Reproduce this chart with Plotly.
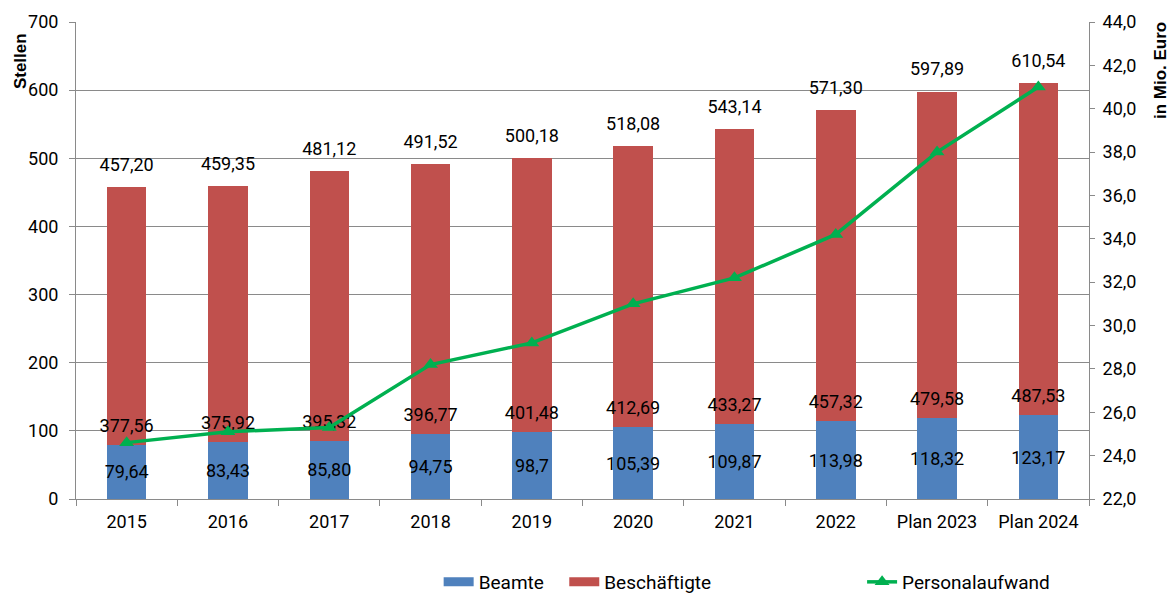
import plotly.graph_objects as go

# ---- data ----
categories = ["2015", "2016", "2017", "2018", "2019", "2020", "2021", "2022", "Plan 2023", "Plan 2024"]
beamte = [79.64, 83.43, 85.80, 94.75, 98.7, 105.39, 109.87, 113.98, 118.32, 123.17]
beamte_labels = ["79,64", "83,43", "85,80", "94,75", "98,7", "105,39", "109,87", "113,98", "118,32", "123,17"]
beschaeftigte = [377.56, 375.92, 395.32, 396.77, 401.48, 412.69, 433.27, 457.32, 479.58, 487.53]
totals = [457.20, 459.35, 481.12, 491.52, 500.18, 518.08, 543.14, 571.30, 597.89, 610.54]
personalaufwand = [24.6, 25.1, 25.3, 28.2, 29.2, 31.0, 32.2, 34.2, 38.0, 41.0]


def de(v):
    return f"{v:.2f}".replace(".", ",")


BLUE = "#4F81BD"
RED = "#C0504D"
GREEN = "#00B050"
GRID = "#8a8a8a"
FONT = "Roboto"
FS = 18

fig = go.Figure()

# stacked bars
fig.add_trace(go.Bar(
    x=categories, y=beamte, name="Beamte", marker=dict(color=BLUE, line=dict(width=0)),
    text=beamte_labels, textposition="inside", insidetextanchor="middle",
    textangle=0, constraintext="none",
    insidetextfont=dict(family=FONT, size=FS, color="black"),
    showlegend=False, width=0.39, hoverinfo="skip",
))
fig.add_trace(go.Bar(
    x=categories, y=beschaeftigte, name="Beschäftigte", marker=dict(color=RED, line=dict(width=0)),
    showlegend=False, width=0.39, hoverinfo="skip",
))

# labels of Beschäftigte (at base of red segment) and totals (above bars)
fig.add_trace(go.Scatter(
    x=categories, y=beamte, mode="markers+text", text=[de(v) for v in beschaeftigte],
    textposition="top center", textfont=dict(family=FONT, size=FS, color="black"),
    marker=dict(size=12, opacity=0), showlegend=False, hoverinfo="skip", cliponaxis=False,
))
fig.add_trace(go.Scatter(
    x=categories, y=totals, mode="markers+text", text=[de(v) for v in totals],
    textposition="top center", textfont=dict(family=FONT, size=FS, color="black"),
    marker=dict(size=17, opacity=0), showlegend=False, hoverinfo="skip", cliponaxis=False,
))

# line on secondary axis
fig.add_trace(go.Scatter(
    x=categories, y=personalaufwand, yaxis="y2", mode="lines+markers", name="Personalaufwand",
    line=dict(color=GREEN, width=3.5),
    marker=dict(symbol="triangle-up", size=13, color=GREEN),
    legend="legend2", hoverinfo="skip",
))

# legend proxies for bars
fig.add_trace(go.Scatter(x=[None], y=[None], mode="lines", name="Beamte",
                         line=dict(color=BLUE, width=9), legend="legend"))
fig.add_trace(go.Scatter(x=[None], y=[None], mode="lines", name="Beschäftigte",
                         line=dict(color=RED, width=9), legend="legend3"))

legend_common = dict(orientation="h", yanchor="middle", y=-0.174, xanchor="left",
                     font=dict(family=FONT, size=19, color="black"),
                     bgcolor="rgba(0,0,0,0)", borderwidth=0)

fig.update_layout(
    width=1169, height=594,
    margin=dict(l=76, r=80, t=22, b=95, autoexpand=False),
    paper_bgcolor="white", plot_bgcolor="white",
    barmode="stack",
    separators=",.",
    font=dict(family=FONT, size=FS, color="black"),
    xaxis=dict(type="category", range=[-0.5, len(categories) - 0.5],
               showline=True, linecolor=GRID, linewidth=1,
               ticks="outside", tickson="boundaries", ticklen=6, tickcolor=GRID,
               ticklabelstandoff=6,
               tickfont=dict(family=FONT, size=FS, color="black"), showgrid=False),
    yaxis=dict(range=[0, 700], dtick=100, showline=True, linecolor=GRID, linewidth=1,
               showgrid=True, gridcolor=GRID, gridwidth=1, zeroline=False,
               ticks="outside", ticklen=6, tickcolor=GRID, ticklabelstandoff=7,
               tickfont=dict(family=FONT, size=FS, color="black")),
    yaxis2=dict(range=[22, 44], dtick=2, tickformat=".1f", overlaying="y", side="right",
                showline=True, linecolor=GRID, linewidth=1, showgrid=False, zeroline=False,
                ticks="outside", ticklen=5, tickcolor=GRID, ticklabelstandoff=4,
                tickfont=dict(family=FONT, size=FS, color="black")),
    legend=dict(**legend_common, x=0.358),
    legend3=dict(**legend_common, x=0.482),
    legend2=dict(**legend_common, x=0.776),
    annotations=[
        dict(text="<b>Stellen</b>", xref="paper", yref="paper", x=-0.0553, y=0.918,
             xanchor="center", yanchor="middle", textangle=-90, showarrow=False,
             font=dict(family="Liberation Sans", size=17, color="black")),
        dict(text="<b>in Mio. Euro</b>", xref="paper", yref="paper", x=1.070, y=0.899,
             xanchor="center", yanchor="middle", textangle=-90, showarrow=False,
             font=dict(family="Liberation Sans", size=17, color="black")),
    ],
)

fig.write_html("out.html", config={"displayModeBar": False},
               post_script="document.body.style.margin='0';document.body.style.overflow='hidden';")
